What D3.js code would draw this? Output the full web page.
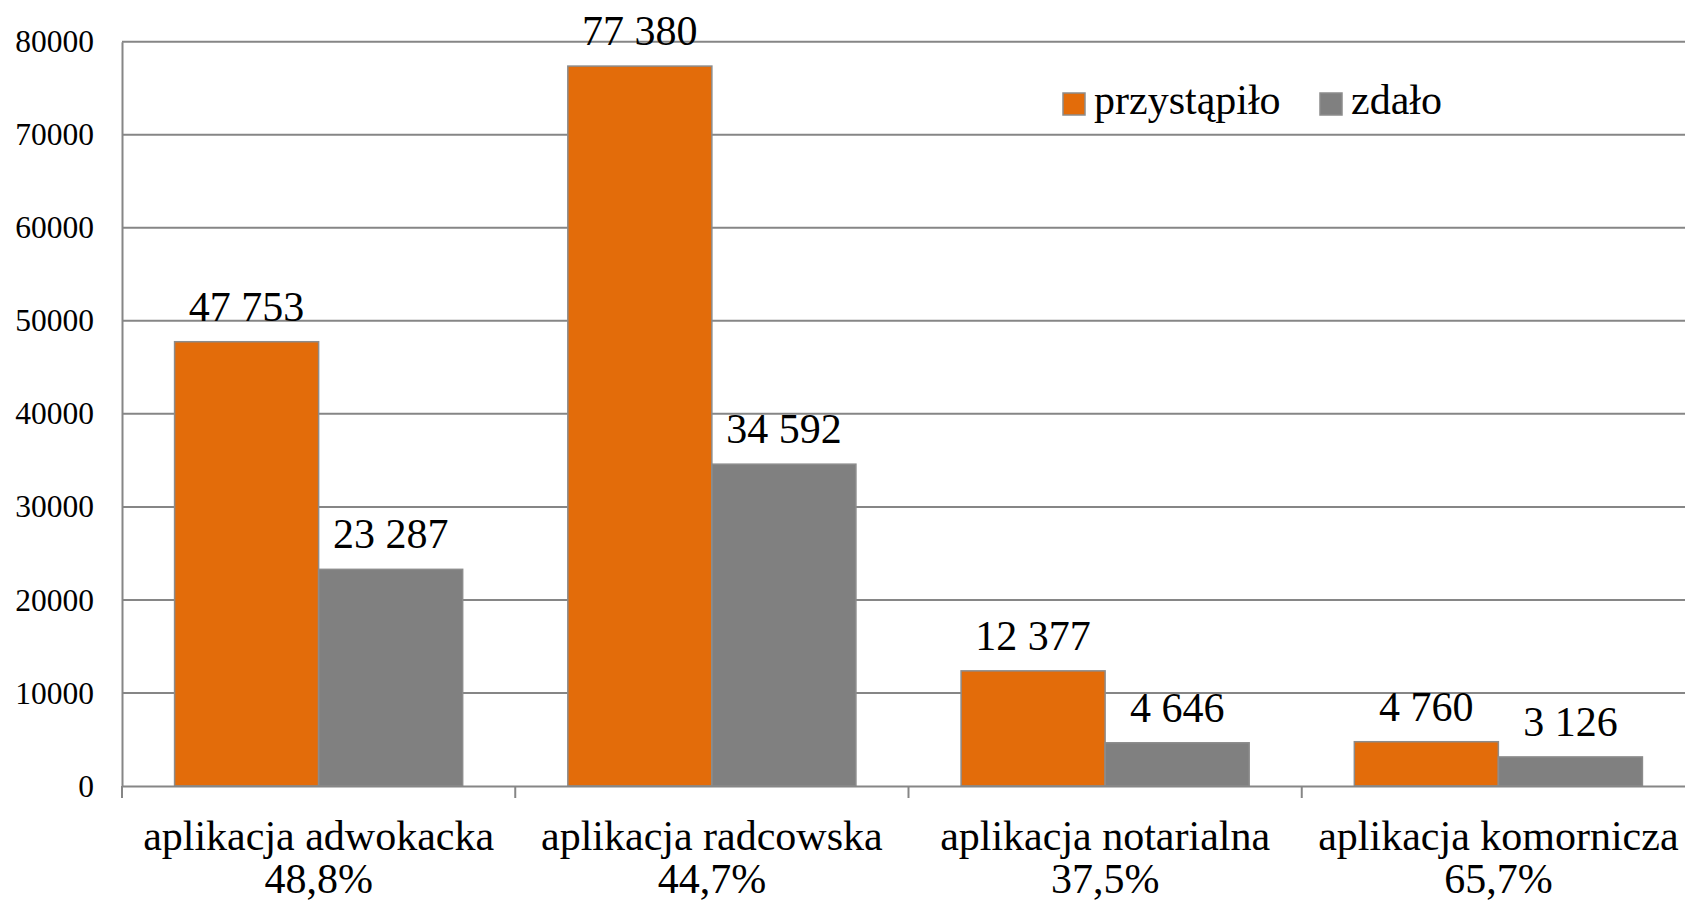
<!DOCTYPE html>
<html>
<head>
<meta charset="utf-8">
<script src="https://cdn.jsdelivr.net/npm/d3@7"></script>
<style>
  html, body { margin: 0; padding: 0; background: #fff; }
  svg { display: block; }
</style>
</head>
<body>
<div id="chart"></div>
<script>
const categories = ['aplikacja adwokacka', 'aplikacja radcowska', 'aplikacja notarialna', 'aplikacja komornicza'];
const passRates = ['48,8%', '44,7%', '37,5%', '65,7%'];
const seriesNames = ['przystąpiło', 'zdało'];
const przystapilo = [47753, 77380, 12377, 4760];
const zdalo = [23287, 34592, 4646, 3126];
const yTicks = [0, 10000, 20000, 30000, 40000, 50000, 60000, 70000, 80000];

const width = 1685;
const height = 905;
const colors = ['#e36c0a', '#808080'];
const lineColor = '#868686';
const fontFamily = '"Liberation Serif", serif';

const rows = categories.map((c, i) => ({
  category: c,
  rate: passRates[i],
  values: [przystapilo[i], zdalo[i]]
}));

const fmt = d3.formatLocale({ decimal: ',', thousands: ' ', grouping: [3], currency: ['', ''] }).format(',d');

const svg = d3
  .select('#chart')
  .append('svg')
  .attr('width', width)
  .attr('height', height);

// scales - the plot runs past the right edge, like the original
const x = d3.scaleBand().domain(categories).range([122, 1695]);
const xs = d3
  .scaleBand()
  .domain(seriesNames)
  .range([0, x.bandwidth()])
  .paddingInner(0)
  .paddingOuter(0.365);
const y = d3.scaleLinear().domain([0, 80000]).range([786, 41.7]);

// Gridlines
svg
  .selectAll('line.grid')
  .data(yTicks.slice(1))
  .enter()
  .append('line')
  .attr('class', 'grid')
  .attr('x1', 122)
  .attr('x2', width)
  .attr('y1', d => y(d))
  .attr('y2', d => y(d))
  .attr('stroke', lineColor)
  .attr('stroke-width', 2);

// Y axis
const yAxis = svg
  .append('g')
  .attr('transform', 'translate(122,0)')
  .call(d3.axisLeft(y).tickValues(yTicks).tickFormat(d3.format('d')).tickSize(0).tickPadding(28));
yAxis.select('.domain').attr('stroke', lineColor).attr('stroke-width', 2);
yAxis
  .selectAll('text')
  .attr('font-size', 31.5)
  .attr('fill', '#000');

// Bars
const groups = svg
  .selectAll('g.cat')
  .data(rows)
  .enter()
  .append('g')
  .attr('class', 'cat')
  .attr('transform', d => `translate(${x(d.category)},0)`);

groups
  .selectAll('rect')
  .data(d => d.values.map((v, i) => ({ name: seriesNames[i], value: v, i })))
  .enter()
  .append('rect')
  .attr('x', d => xs(d.name))
  .attr('y', d => y(d.value))
  .attr('width', xs.bandwidth())
  .attr('height', d => y(0) - y(d.value))
  .attr('fill', d => colors[d.i])
  .attr('stroke', '#8c8c8c')
  .attr('stroke-width', 1.5);

groups
  .selectAll('text.value')
  .data(d => d.values.map((v, i) => ({ name: seriesNames[i], value: v })))
  .enter()
  .append('text')
  .attr('class', 'value')
  .attr('x', d => xs(d.name) + xs.bandwidth() / 2)
  .attr('y', d => y(d.value) - 21)
  .attr('text-anchor', 'middle')
  .attr('font-size', 42)
  .text(d => fmt(d.value));

// X axis
const xAxis = svg
  .append('g')
  .attr('transform', `translate(0,${y(0)})`)
  .call(d3.axisBottom(x).tickSize(0).tickFormat(''));
xAxis.select('.domain').attr('stroke', lineColor).attr('stroke-width', 2);

svg
  .selectAll('line.xtick')
  .data(categories)
  .enter()
  .append('line')
  .attr('class', 'xtick')
  .attr('x1', d => x(d))
  .attr('x2', d => x(d))
  .attr('y1', y(0))
  .attr('y2', y(0) + 12)
  .attr('stroke', lineColor)
  .attr('stroke-width', 2);

const labels = svg
  .selectAll('text.cat')
  .data(rows)
  .enter()
  .append('text')
  .attr('class', 'cat')
  .attr('text-anchor', 'middle')
  .attr('font-size', 42);
labels
  .append('tspan')
  .attr('x', d => x(d.category) + x.bandwidth() / 2)
  .attr('y', 850)
  .text(d => d.category);
labels
  .append('tspan')
  .attr('x', d => x(d.category) + x.bandwidth() / 2)
  .attr('y', 893)
  .text(d => d.rate);

// Legend
const legend = svg
  .selectAll('g.legend')
  .data(seriesNames)
  .enter()
  .append('g')
  .attr('class', 'legend')
  .attr('transform', (d, i) => `translate(${[1063, 1320][i]},93)`);
legend
  .append('rect')
  .attr('width', 22)
  .attr('height', 22)
  .attr('fill', (d, i) => colors[i])
  .attr('stroke', '#8c8c8c')
  .attr('stroke-width', 1.5);
legend
  .append('text')
  .attr('x', 31)
  .attr('y', 21)
  .attr('font-size', 42)
  .text(d => d);

// one font for every label
svg.selectAll('text').style('font-family', fontFamily);
</script>
</body>
</html>
